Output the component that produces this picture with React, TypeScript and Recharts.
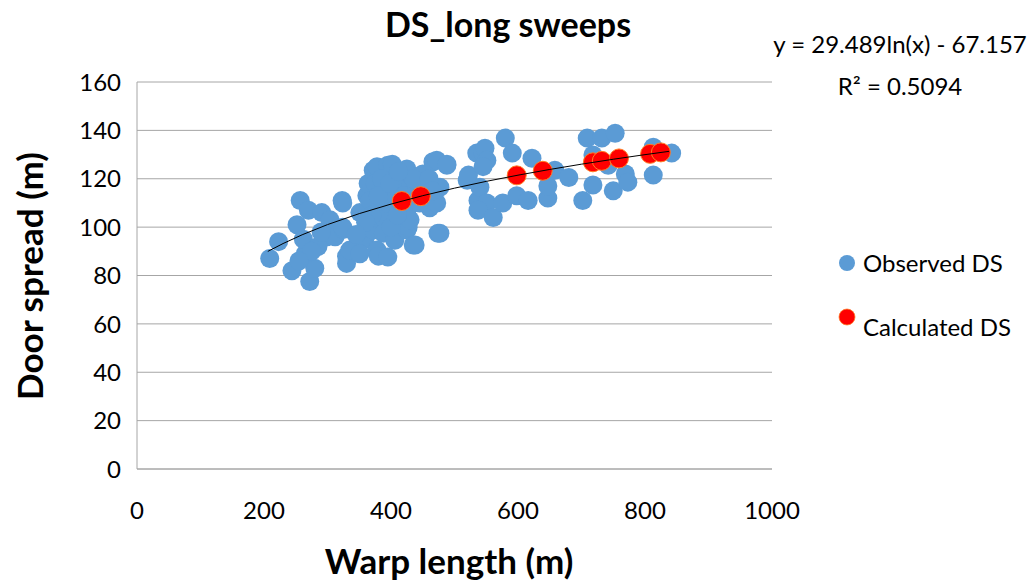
import { ScatterChart, Scatter, XAxis, YAxis, CartesianGrid, Legend, Label } from "recharts";

type Pt = { x: number; y: number };

const FONT = "Lato, 'Open Sans', sans-serif";

const xTicks = [0, 200, 400, 600, 800, 1000];
const yTicks = [0, 20, 40, 60, 80, 100, 120, 140, 160];

// warp length (m) vs door spread (m), one entry per haul
const observedDs: Pt[] = [
  { x: 209, y: 87 }, { x: 223, y: 94 }, { x: 244, y: 82 }, { x: 252, y: 101 },
  { x: 257, y: 111 }, { x: 270, y: 107 }, { x: 272, y: 77.5 }, { x: 280, y: 83 },
  { x: 265, y: 89 }, { x: 291, y: 106 }, { x: 304, y: 103 }, { x: 299, y: 96 },
  { x: 312, y: 96 }, { x: 323, y: 111 }, { x: 325, y: 99 }, { x: 330, y: 88 },
  { x: 330, y: 85 }, { x: 346, y: 92 }, { x: 335, y: 90.5 }, { x: 324, y: 100 },
  { x: 324, y: 110 }, { x: 262, y: 95 }, { x: 285, y: 92 }, { x: 290, y: 98 },
  { x: 275, y: 90 }, { x: 255, y: 86 },
  { x: 351, y: 106 }, { x: 356, y: 94.6 }, { x: 359, y: 95 }, { x: 351, y: 89 },
  { x: 362, y: 113 }, { x: 364, y: 118 }, { x: 367, y: 111 }, { x: 372, y: 123.5 },
  { x: 375, y: 118 }, { x: 372, y: 98.8 }, { x: 378, y: 125 }, { x: 378, y: 90.5 },
  { x: 380, y: 88 }, { x: 383, y: 108 }, { x: 388, y: 104 }, { x: 388, y: 97.5 },
  { x: 395, y: 125.6 }, { x: 395, y: 87.6 }, { x: 402, y: 126 }, { x: 406, y: 94.6 },
  { x: 419, y: 116.5 }, { x: 425, y: 124 }, { x: 425, y: 107 }, { x: 425, y: 98.8 },
  { x: 427, y: 100 }, { x: 430, y: 103 }, { x: 435, y: 92.6 }, { x: 438, y: 92.6 },
  { x: 449, y: 121.5 }, { x: 450, y: 122 }, { x: 461, y: 108 }, { x: 466, y: 127 },
  { x: 472, y: 127.7 }, { x: 472, y: 110 }, { x: 474, y: 97.5 }, { x: 477, y: 116.5 },
  { x: 477, y: 97.5 }, { x: 488, y: 125.6 }, { x: 488, y: 126 },
  { x: 390, y: 115 }, { x: 400, y: 112 }, { x: 410, y: 118 }, { x: 405, y: 120 },
  { x: 385, y: 120 }, { x: 395, y: 110 }, { x: 415, y: 110 }, { x: 420, y: 113 },
  { x: 400, y: 100 }, { x: 410, y: 105 }, { x: 440, y: 115 }, { x: 445, y: 110 },
  { x: 455, y: 117 }, { x: 435, y: 120 }, { x: 460, y: 120 }, { x: 465, y: 115 },
  { x: 380, y: 113 }, { x: 370, y: 105 }, { x: 360, y: 102 }, { x: 345, y: 97 },
  { x: 398, y: 118 }, { x: 412, y: 123 },
  { x: 520, y: 119.4 }, { x: 522, y: 121.5 }, { x: 535, y: 130.6 }, { x: 545, y: 130.6 },
  { x: 548, y: 132.6 }, { x: 551, y: 127.6 }, { x: 545, y: 125 }, { x: 540, y: 110 },
  { x: 537, y: 111 }, { x: 540, y: 116.5 }, { x: 551, y: 110 }, { x: 537, y: 107 },
  { x: 561, y: 104 }, { x: 576, y: 110 }, { x: 580, y: 136.8 }, { x: 591, y: 130.6 },
  { x: 598, y: 113 }, { x: 616, y: 111 }, { x: 622, y: 128.5 }, { x: 647, y: 112 },
  { x: 647, y: 117 }, { x: 658, y: 123.5 }, { x: 680, y: 120.5 }, { x: 702, y: 111 },
  { x: 709, y: 136.8 }, { x: 718, y: 129.8 }, { x: 718, y: 117.4 }, { x: 732, y: 136.8 },
  { x: 742, y: 125.6 }, { x: 750, y: 115 }, { x: 753, y: 138.8 }, { x: 769, y: 122 },
  { x: 773, y: 118.6 }, { x: 813, y: 121.5 }, { x: 813, y: 133 }, { x: 842, y: 130.6 },
];

const calculatedDs: Pt[] = [
  { x: 417, y: 110.8 }, { x: 447, y: 112.8 }, { x: 598, y: 121.4 }, { x: 639, y: 123.3 },
  { x: 718, y: 126.8 }, { x: 732, y: 127.4 }, { x: 759, y: 128.4 }, { x: 808, y: 130.3 },
  { x: 825, y: 130.9 },
];

// log trendline y = a ln(x) + b, sampled over the observed range
const trendA = 29.489;
const trendB = -67.157;
const trendX = [206, 230, 260, 300, 350, 400, 450, 500, 550, 600, 650, 700, 750, 800, 838];
const trend: Pt[] = trendX.map((x) => ({ x, y: trendA * Math.log(x) + trendB }));

const dot = (fill: string, stroke?: string) => (p: any) => (
  <circle cx={p.cx} cy={p.cy} r={9.5} fill={fill} stroke={stroke ?? "none"} strokeWidth={1} />
);

const XTick = ({ x, y, payload }: any) => (
  <text x={x} y={y + 50} textAnchor="middle" fontFamily={FONT} fontSize={24} fill="#000">
    {payload.value}
  </text>
);

const YTick = ({ y, payload }: any) => (
  <text x={121} y={y} dy="0.36em" textAnchor="end" fontFamily={FONT} fontSize={24} fill="#000">
    {payload.value}
  </text>
);

const LegendBox = () => (
  <div style={{ position: "relative", width: 196, height: 100, fontFamily: FONT, fontSize: 24 }}>
    <svg width={24} height={100} style={{ position: "absolute", left: 0, top: 0 }}>
      <circle cx={11} cy={18} r={8} fill="#5B9BD5" />
      <circle cx={11} cy={72} r={8} fill="#FF0000" stroke="#FF7F27" strokeWidth={0.75} />
    </svg>
    <div style={{ position: "absolute", left: 27, top: 4, lineHeight: "28px", whiteSpace: "nowrap" }}>Observed DS</div>
    <div style={{ position: "absolute", left: 27, top: 68, lineHeight: "28px", whiteSpace: "nowrap" }}>Calculated DS</div>
  </div>
);

export default function App() {
  return (
    <div style={{ position: "absolute", left: 0, top: 0, width: 1032, height: 582, background: "#fff", fontFamily: FONT }}>
      <div style={{ position: "absolute", left: 0, top: 3, width: 1016, textAlign: "center", fontSize: 34, fontWeight: 700 }}>
        DS_long sweeps
      </div>
      <div style={{ position: "absolute", left: 768, top: 29, width: 264, textAlign: "center", fontSize: 24 }}>
        y = 29.489ln(x) - 67.157
      </div>
      <div style={{ position: "absolute", left: 768, top: 71, width: 264, textAlign: "center", fontSize: 24 }}>
        R² = 0.5094
      </div>
      <ScatterChart width={1032} height={582} margin={{ top: 82, right: 260, bottom: 0, left: 0 }}>
        <CartesianGrid vertical={false} stroke="#A6A6A6" />
        <XAxis
          type="number"
          dataKey="x"
          domain={[0, 1000]}
          ticks={xTicks}
          height={113}
          tickSize={0}
          tickMargin={0}
          tickLine={false}
          axisLine={{ stroke: "#A6A6A6" }}
          tick={<XTick />}
        >
          <Label
            content={() => (
              <text x={449} y={574} textAnchor="middle" fontFamily={FONT} fontSize={35} fontWeight={700} fill="#000">
                Warp length (m)
              </text>
            )}
          />
        </XAxis>
        <YAxis
          type="number"
          dataKey="y"
          domain={[0, 160]}
          ticks={yTicks}
          width={137}
          tickSize={0}
          tickMargin={0}
          tickLine={false}
          axisLine={{ stroke: "#A6A6A6" }}
          tick={<YTick />}
        >
          <Label
            content={() => (
              <text
                x={43}
                y={276}
                transform="rotate(-90 43 276)"
                textAnchor="middle"
                fontFamily={FONT}
                fontSize={35}
                fontWeight={700}
                fill="#000"
              >
                Door spread (m)
              </text>
            )}
          />
        </YAxis>
        <Legend
          layout="horizontal"
          verticalAlign="middle"
          align="center"
          content={<LegendBox />}
          wrapperStyle={{ position: "absolute", left: 836, top: 245, width: 196, height: 100 }}
        />
        <Scatter name="Observed DS" data={observedDs} fill="#5B9BD5" shape={dot("#5B9BD5")} isAnimationActive={false} />
        <Scatter
          name="Calculated DS"
          data={calculatedDs}
          fill="#FF0000"
          shape={dot("#FF0000", "#FF7F27")}
          isAnimationActive={false}
        />
        <Scatter
          name="trend"
          data={trend}
          line={{ stroke: "#000", strokeWidth: 1 }}
          shape={() => <g />}
          legendType="none"
          isAnimationActive={false}
        />
      </ScatterChart>
    </div>
  );
}
